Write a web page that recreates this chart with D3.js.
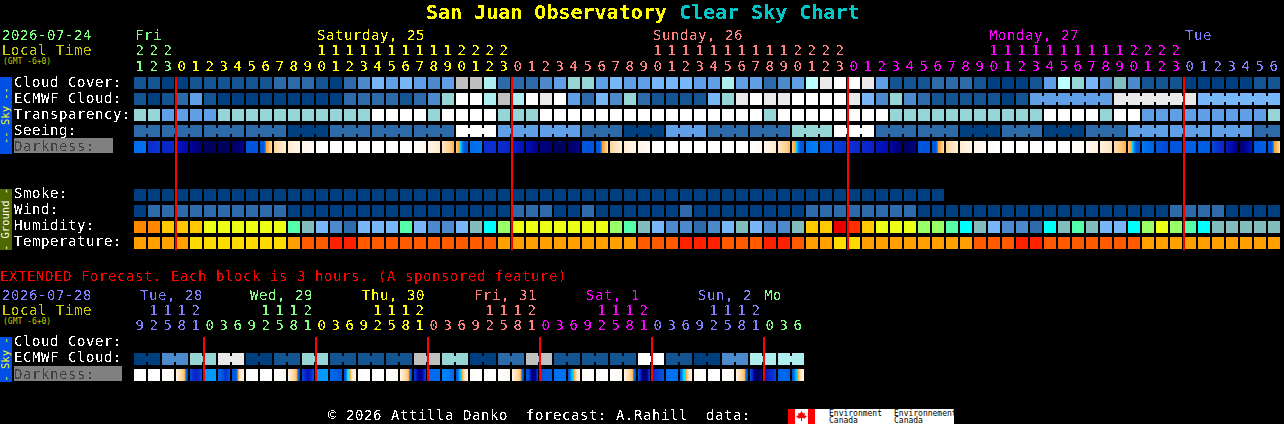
<!DOCTYPE html>
<html>
<head>
<meta charset="utf-8">
<title>San Juan Observatory Clear Sky Chart</title>
<script src="https://cdnjs.cloudflare.com/ajax/libs/d3/7.8.5/d3.min.js"></script>
<style>
	html, body { margin: 0; padding: 0; background: #000; overflow: hidden; }
	svg { display: block; }
	text { font-family: "DejaVu Sans Mono", monospace; font-size: 14px; letter-spacing: 0.57px; white-space: pre; }
	rect { shape-rendering: crispEdges; }
</style>
</head>
<body>
<div id="viz"></div>
<script>
// 48 hour forecast, one block per hour
var topHours = [21,22,23,0,1,2,3,4,5,6,7,8,9,10,11,12,13,14,15,16,17,18,19,20,21,22,23,
	0,1,2,3,4,5,6,7,8,9,10,11,12,13,14,15,16,17,18,19,20,21,22,23,
	0,1,2,3,4,5,6,7,8,9,10,11,12,13,14,15,16,17,18,19,20,21,22,23,
	0,1,2,3,4,5,6];
var topDayLabels = ["Fri", "Saturday, 25", "Sunday, 26", "Monday, 27", "Tue"];
var topDayStarts = [0, 3, 27, 51, 75];
var topLabelColumns = [0, 13, 37, 61, 75];
var topMidnights = [3, 27, 51, 75];

// levels index into the palettes further down
var cloudCover = [1,1,0,0,1,1,1,1,1,1,2,2,2,1,0,2,3,5,4,5,4,3,4,10,10,8,2,
	2,2,3,4,7,7,4,5,4,4,5,5,5,4,4,8,4,4,2,3,4,9,11,12,
	12,11,4,1,1,1,2,2,2,1,0,0,0,1,4,9,7,5,3,6,3,1,1,1,
	0,0,0,0,0,1,1];
var ecmwfCloud = [1,0,1,2,4,1,0,0,0,0,0,0,0,0,0,2,2,2,2,1,2,3,7,12,12,8,10,
	8,12,11,12,4,2,5,3,7,2,1,1,1,1,5,7,11,12,11,11,12,12,12,12,
	11,5,3,7,3,2,1,1,1,1,1,0,1,4,4,4,4,4,4,11,11,11,11,11,11,
	5,5,5,5,5,5];
var transparency = [7,7,4,4,4,4,7,7,7,7,7,7,7,7,7,7,7,12,12,12,12,7,12,12,12,12,7,
	7,7,12,12,12,12,12,12,12,12,12,12,12,12,12,12,12,12,7,12,12,12,12,12,
	12,12,12,7,7,7,7,7,7,7,7,7,7,7,12,12,12,12,7,12,12,4,4,4,
	4,4,4,4,4,4,7];
// seeing comes in 3 hour steps, the first and the last step are cut short
var seeingSteps = [2,2,2,2,0,2,2,2,12,4,4,2,0,4,2,2,7,12,2,2,0,2,0,2,4,4,4,2];
var seeingStepLengths = [2,3,3,3,3,3,3,3,3,3,3,3,3,3,3,3,3,3,3,3,3,3,3,3,3,3,3,2];

// sample points across each darkness block, high is dark, low is bright sky
var darkness = [[2,2],[3.6,3.4],[3.9,3.7],[4.3,4.7],[4.8,5.6],[5.8,5.8],[5.8,5.8],[5.8,5],[3,3],
	[3,3,1.1,0.6,-0.4],[-0.2,-1.8],[-1.6,-2.6],[-2.6,-3.2],[-3.6,-4],[-4,-4],[-4,-4],[-4,-4],[-4,-4],
	[-4,-4],[-4,-4],[-3.8,-3],[-2.5,-1.4],[-1,0.6],[0.3,1,1.5,3,3],[2.2,1.9],[3.6,3.5],[3.6,3.9],
	[4,4.4],[4.5,5],[5.2,5.5],[5.8,5.8],[5.8,5],[3,3],[3,3,1.1,0.6,-0.4],[-0.2,-1.8],[-1.6,-2.6],
	[-2.6,-3.4],[-3.6,-4],[-4,-4],[-4,-4],[-4,-4],[-4,-4],[-4,-4],[-4,-4],[-3.8,-3.2],[-2.5,-1.4],
	[-1,0.4],[0.3,1,1.5,3,3],[2,1.8],[3.1,3],[3.3,3.5],[3.5,3.7],[3.7,4],[4.3,4.6],[4.7,5.5],[5.8,5.2],
	[3,3],[3,3,1.1,0.6,-0.4],[-0.2,-1.8],[-1.6,-2.6],[-2.6,-3.4],[-3.6,-4],[-4,-4],[-4,-4],[-4,-4],
	[-4,-4],[-4,-4],[-3.8,-3.2],[-3,-2.2],[-2,-1],[-0.5,0.7],[0.3,1,1.5,3,3],[1.9,2.6],[3,3.2],[3,3],
	[2.6,2.6],[2.6,2.8],[3.2,3.8],[4.2,5.2],[5.4,4.4],[3,2.6],[3,3,1.1,0.6,-0.4]];
var smoke = [0,0,0,0,0,0,0,0,0,0,0,0,0,0,0,0,0,0,0,0,0,0,0,0,0,0,0,0,0,0,0,0,0,0,0,0,0,0,0,0,0,0,0,0,0,0,0,0,0,0,0,0,0,0,0,0,0,0];
var wind = [0,2,2,2,2,2,2,2,2,2,2,0,0,0,0,0,0,0,0,0,0,0,0,0,0,0,0,
	2,2,2,0,0,2,0,0,0,0,0,0,2,0,0,0,0,0,0,0,0,2,2,2,
	2,2,2,2,2,0,0,0,0,0,0,0,0,0,0,0,0,0,0,0,0,0,0,2,
	2,2,2,0,0,0,0];
var humidity = [9,9,8,8,8,7,7,7,7,7,7,5,3,2,1,0,2,2,2,5,2,1,1,2,3,4,6,
	7,7,7,7,7,7,7,6,5,3,2,1,1,0,1,2,3,2,1,1,3,8,8,11,
	10,8,7,7,7,6,6,5,4,3,2,1,1,0,4,3,5,3,2,2,4,6,7,6,
	5,4,3,3,3,3,3];
var temperature = [1,1,1,1,0,0,0,0,0,0,0,1,2,2,3,3,2,2,2,2,2,2,2,2,2,2,1,
	1,1,1,1,1,1,1,1,1,2,2,2,3,3,3,2,2,2,3,3,2,1,1,0,
	0,1,1,1,1,1,1,1,1,2,2,2,3,3,2,2,2,2,2,2,2,1,1,1,
	1,1,1,1,1,1,1];

// extended forecast, one block per 3 hours
var extHours = [9,12,15,18,21,0,3,6,9,12,15,18,21,0,3,6,9,12,15,18,21,0,3,6,
	9,12,15,18,21,0,3,6,9,12,15,18,21,0,3,6,9,12,15,18,21,0,3,6];
var extDayLabels = ["Tue, 28", "Wed, 29", "Thu, 30", "Fri, 31", "Sat, 1", "Sun, 2", "Mo"];
var extDayStarts = [0, 5, 13, 21, 29, 37, 45];
var extLabelColumns = [0, 8, 16, 24, 32, 40, 45];
var extLabelNudges = [6, 4, 4, 4, 4, 4, 0];
var extMidnights = [5, 13, 21, 29, 37, 45];
var extEcmwfSteps = [0,3,7,11,0,1,7,1,1,1,10,7,0,2,10,1,1,1,12,1,0,3,8,8];
var extDarkness = [[-3.3,-4,-4],[-4,-4],[-4,-4,-3.4,-2.8],[-2.2,-1,-0.2,0.7,3.2],[3.1,3.6,4,3.6,3.1],[1.5,1.5],[2.4,3,3.5,3],[3,3,1.05,-1.5,-2.6],
	[-3.3,-4,-4],[-4,-4],[-4,-4,-3.4,-2.8],[-2.2,-1,-0.2,0.7,3.2],[3.2,3.8,4.4,3.8,3],[1.5,1.5],[2.3,2.6,3],[3,1.2,1.05,-1.5,-2.6],
	[-3.3,-4,-4],[-4,-4],[-4,-4,-3.4,-2.8],[-2.2,-1,-0.2,0.7,3.2],[3.4,4.6,5.4,4.6,3.2],[2.2,2.2],[1.8,1.8,2.2],[3,1.3,1.15,-1,-2.5],
	[-3.3,-4,-4],[-4,-4],[-4,-4,-3.4,-2.8],[-2.2,-1,-0.2,0.7,3.2],[3,3,4.6,5.5,5.4,3.4],[3,2.8,2.6],[2,2],[3,1.3,1.15,-1,-2.5],
	[-3.3,-4,-4],[-4,-4],[-4,-4,-3.4,-2.8],[-2.2,-1,-0.2,0.7,3.2],[3,4,5.5,5.8,5,3.4],[3.6,3.3,3],[2,2],[2.4,1.2,1.15,-1,-2.5],
	[-3.3,-4,-4],[-4,-4],[-4,-4,-3.4,-2.8],[-2.2,-1,-0.2,0.7,3.2],[3,4,5.5,5.9,5.8,4.6],[4.4,3.8,3.2],[2.6,2.2,2.6],[3,1.3,1.15,-1,-2.5]];

var skyPalette = ["#003f7f","#135593","#2c6aaa","#4d8acc","#5f9fe6","#77b7f7","#7fbfbf","#95d5d5","#aeeeee","#bbffff","#c0c0c0","#e9e9e9","#ffffff"];
var humidityPalette = ["#2c6aaa","#4d8acc","#77b7f7","#82bdbd","#00ffff","#55ffaa","#99ff66","#ecff14","#ffc800","#ff8800","#ff3000","#e80000"];
var temperaturePalette = ["#ffdc00","#ffa000","#ff5a00","#ff2000"];
var dayPalette = ["#80ff80","#ffff00","#ff8080","#ff00ff","#8080ff"];
var extDayPalette = ["#8080ff","#80ff80","#ffff00","#ff8080","#ff00ff","#8080ff","#80ff80"];

var skyColor = d3.scaleOrdinal(d3.range(skyPalette.length), skyPalette);
var humidityColor = d3.scaleOrdinal(d3.range(humidityPalette.length), humidityPalette);
var temperatureColor = d3.scaleOrdinal(d3.range(temperaturePalette.length), temperaturePalette);
var darknessColor = d3.scaleLinear()
	.domain([-4,-3,-2,-1,0,0.5,1.05,1.15,1.3,2,3,3.5,4,4.5,5,5.5,6])
	.range(["#ffffff","#fff8f0","#fff0dc","#ffe4c0","#ffd090","#ffb860","#ffa020","#00f0ff","#00a8ff","#0070f0","#0055dd","#0a30d0","#0a20c8","#0010b8","#000090","#000070","#000050"])
	.clamp(true);

var topX = d3.scaleBand().domain(d3.range(topHours.length)).range([134, 1280]).paddingInner(1 / 7);
var extX = d3.scaleBand().domain(d3.range(extHours.length)).range([134, 804]).paddingInner(1 / 7);

var svg = d3.select("#viz").append("svg").attr("width", 1284).attr("height", 424);

// hard alpha edge so that the text looks like the bitmap font of the original
var filter = svg.append("defs").append("filter").attr("id", "bitmap")
	.attr("filterUnits", "userSpaceOnUse")
	.attr("x", 0).attr("y", 0).attr("width", 1284).attr("height", 424)
	.attr("color-interpolation-filters", "sRGB");
filter.append("feComponentTransfer").append("feFuncA").attr("type", "discrete").attr("tableValues", "0 1");

var blocks = svg.append("g");
var words = svg.append("g").attr("filter", "url(#bitmap)");
// the filter eats the thin strokes of tiny text, so that goes here
var smallWords = svg.append("g");

function putText(parent, x, y, content, color){

	return parent.append("text").attr("x", x).attr("y", y).attr("fill", color).text(content);
}

function putSmallText(x, y, content, color){

	return putText(smallWords, x, y, content, color).style("font-size", "8px").style("letter-spacing", "0");
}

// one row of blocks, joinedWith(i) true means block i is bridged to block i + 1
function drawRow(x, y, values, color, joinedWith){

	var row = blocks.append("g");
	row.selectAll("rect.block").data(values).join("rect").attr("class", "block")
		.attr("x", function(d, i){ return x(i); })
		.attr("y", y)
		.attr("width", x.bandwidth())
		.attr("height", x.bandwidth())
		.attr("fill", function(d){ return color(d); });

	if(joinedWith){
		row.selectAll("rect.bridge").data(d3.range(values.length - 1).filter(joinedWith)).join("rect").attr("class", "bridge")
			.attr("x", function(i){ return x(i) + x.bandwidth(); })
			.attr("y", y + 3)
			.attr("width", x.step() - x.bandwidth())
			.attr("height", 6)
			.attr("fill", function(i){ return color(values[i]); });
	}
}

// the darkness blocks are shaded inside, one pixel wide slice at a time
function drawDarkness(x, y, samples){

	var size = Math.round(x.bandwidth());
	var cells = blocks.append("g").selectAll("g").data(samples).join("g")
		.attr("transform", function(d, i){ return "translate(" + Math.round(x(i)) + "," + y + ")"; });

	cells.each(function(d){
		var along = d3.piecewise(d3.interpolateNumber, d);
		d3.select(this).selectAll("rect").data(d3.range(size)).join("rect")
			.attr("x", function(p){ return p; })
			.attr("width", 1)
			.attr("height", size)
			.attr("fill", function(p){ return darknessColor(along(p / (size - 1))); });
	});
}

function drawHours(x, hours, tensY, unitsY, dayColor){

	words.append("g").selectAll("text").data(hours).join("text")
		.attr("x", function(d, i){ return x(i) + x.bandwidth() / 2; })
		.attr("y", unitsY)
		.attr("text-anchor", "middle")
		.attr("fill", function(d, i){ return dayColor(i); })
		.text(function(d){ return d % 10; });

	words.append("g").selectAll("text").data(hours.map(function(d, i){ return {hour: d, column: i}; }).filter(function(d){ return d.hour >= 10; })).join("text")
		.attr("x", function(d){ return x(d.column) + x.bandwidth() / 2; })
		.attr("y", tensY)
		.attr("text-anchor", "middle")
		.attr("fill", function(d){ return dayColor(d.column); })
		.text(function(d){ return Math.floor(d.hour / 10); });
}

function drawMidnights(x, columns, y0, y1){

	blocks.append("g").selectAll("rect").data(columns).join("rect")
		.attr("x", function(d){ return Math.round(x(d)) - 1; })
		.attr("y", y0)
		.attr("width", 2)
		.attr("height", y1 - y0)
		.attr("fill", "#ff0000");
}

function drawSideLabel(content, y0, y1, background, color){

	blocks.append("rect").attr("x", 0).attr("y", y0).attr("width", 12).attr("height", y1 - y0).attr("fill", background);
	smallWords.append("text")
		.attr("transform", "translate(9," + ((y0 + y1) / 2) + ") rotate(-90)")
		.attr("text-anchor", "middle")
		.attr("fill", color)
		.style("font-size", "10.5px")
		.style("letter-spacing", "0")
		.text(content);
}

function drawDarknessLabel(y, width){

	blocks.append("rect").attr("x", 14).attr("y", y - 13).attr("width", width).attr("height", 15).attr("fill", "#808080");
	putText(words, 14, y, "Darkness:", "#404040");
}

function drawDateBlock(date, color, y){

	putText(words, 2, y, date, color);
	putText(words, 2, y + 15, "Local Time", "#c8c800");
	putSmallText(3, y + 24, "(GMT -6+0)", "#c8c800");
}

function drawTitle(){

	var title = words.append("text").attr("x", 426).attr("y", 19)
		.style("font-size", "20px").style("font-weight", "bold").style("letter-spacing", "0");
	title.append("tspan").attr("fill", "#ffff00").text("San Juan Observatory ");
	title.append("tspan").attr("fill", "#00c8c8").text("Clear Sky Chart");
}

function drawTopChart(){

	var dayColor = d3.scaleThreshold().domain(topDayStarts.slice(1)).range(dayPalette);

	drawDateBlock("2026-07-24", "#80ff80", 40);
	topDayLabels.forEach(function(label, i){
		putText(words, topX(topLabelColumns[i]) + 1, 40, label, dayPalette[i]);
	});
	drawHours(topX, topHours, 55, 71, dayColor);

	drawSideLabel("-- Sky --", 77, 154, "#0050e8", "#ffff00");
	drawSideLabel("- Ground -", 189, 250, "#4f6800", "#ffffff");

	["Cloud Cover:", "ECMWF Cloud:", "Transparency:", "Seeing:"].forEach(function(label, i){
		putText(words, 14, 87 + i * 16, label, "#ffffff");
	});
	drawDarknessLabel(151, 99);
	["Smoke:", "Wind:", "Humidity:", "Temperature:"].forEach(function(label, i){
		putText(words, 14, 198 + i * 16, label, "#ffffff");
	});

	// every seeing step covers some hours, those get bridged together
	var seeing = [], seeingStepOf = [];
	seeingSteps.forEach(function(level, s){
		d3.range(seeingStepLengths[s]).forEach(function(){
			seeing.push(level);
			seeingStepOf.push(s);
		});
	});

	drawRow(topX, 77, cloudCover, skyColor);
	drawRow(topX, 93, ecmwfCloud, skyColor, function(i){ return i >= 64 && (i - 64) % 6 != 5; });
	drawRow(topX, 109, transparency, skyColor);
	drawRow(topX, 125, seeing, skyColor, function(i){ return seeingStepOf[i] == seeingStepOf[i + 1]; });
	drawDarkness(topX, 141, darkness);
	drawRow(topX, 189, smoke, skyColor);
	drawRow(topX, 205, wind, skyColor);
	drawRow(topX, 221, humidity, humidityColor);
	drawRow(topX, 237, temperature, temperatureColor);

	drawMidnights(topX, topMidnights, 77, 250);
}

function drawExtendedChart(){

	var dayColor = d3.scaleThreshold().domain(extDayStarts.slice(1)).range(extDayPalette);

	putText(words, 0, 281, "EXTENDED Forecast. Each block is 3 hours. (A sponsored feature)", "#ff0000");
	drawDateBlock("2026-07-28", "#8080ff", 300);
	extDayLabels.forEach(function(label, i){
		putText(words, extX(extLabelColumns[i]) + extLabelNudges[i], 300, label, extDayPalette[i]);
	});
	drawHours(extX, extHours, 315, 330, dayColor);

	drawSideLabel("- Sky -", 337, 382, "#0050e8", "#ffff00");
	putText(words, 14, 346, "Cloud Cover:", "#ffffff");
	putText(words, 14, 362, "ECMWF Cloud:", "#ffffff");
	drawDarknessLabel(379, 108);

	var ecmwf = [];
	extEcmwfSteps.forEach(function(level){ ecmwf.push(level, level); });
	drawRow(extX, 353, ecmwf, skyColor, function(i){ return i % 2 == 0; });
	drawDarkness(extX, 369, extDarkness);

	drawMidnights(extX, extMidnights, 337, 381);
}

function drawFooter(){

	putText(words, 328, 420, "\u00a9 2026 Attilla Danko  forecast: A.Rahill  data:", "#ffffff");

	blocks.append("rect").attr("x", 788).attr("y", 409).attr("width", 166).attr("height", 15).attr("fill", "#ffffff");
	blocks.append("rect").attr("x", 788).attr("y", 409).attr("width", 7).attr("height", 15).attr("fill", "#ff0000");
	blocks.append("rect").attr("x", 808).attr("y", 409).attr("width", 7).attr("height", 15).attr("fill", "#ff0000");
	blocks.append("path")
		.attr("d", "M801.5 411 L803 413.5 L805 413 L804.5 415.5 L807 416 L804.5 418.5 L802 418 L802 421 L801 421 L801 418 L798.5 418.5 L796 416 L798.5 415.5 L798 413 L800 413.5 Z")
		.attr("fill", "#ff0000");

	[[829, "Environment"], [894, "Environnement"]].forEach(function(d){
		putSmallText(d[0], 416, d[1], "#000000");
		putSmallText(d[0], 423, "Canada", "#000000");
	});
}

drawTitle();
drawTopChart();
drawExtendedChart();
drawFooter();
</script>
</body>
</html>
